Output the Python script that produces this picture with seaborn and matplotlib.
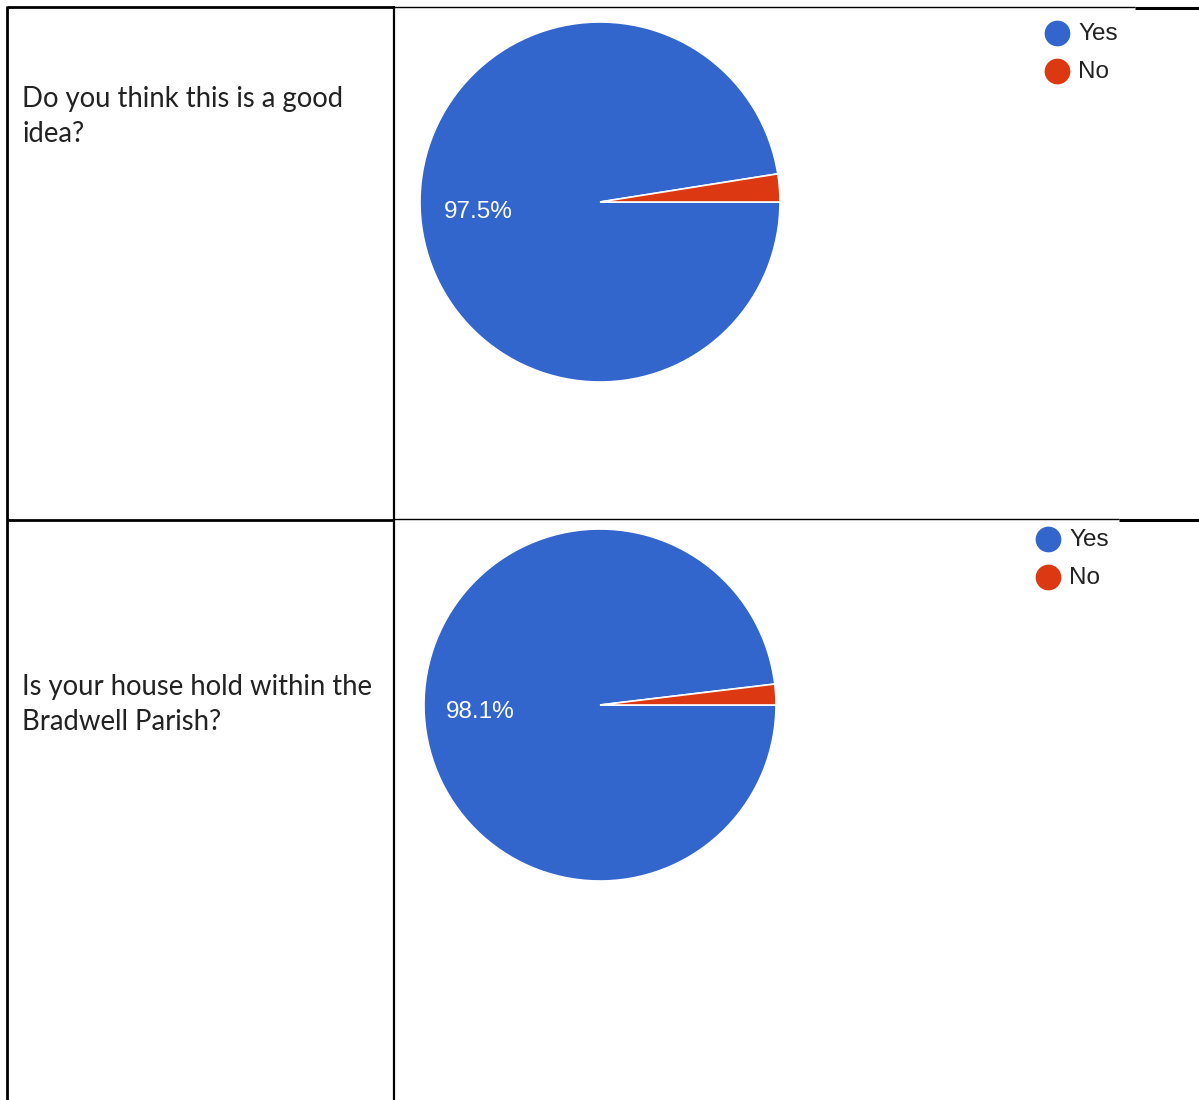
import matplotlib
matplotlib.use("Agg")
import matplotlib.pyplot as plt
import seaborn as sns
import pandas as pd

# survey data
questions = ["Do you think this is a good\nidea?",
             "Is your house hold within the\nBradwell Parish?"]
answers = ["Yes", "No"]
yes_share = [97.5, 98.1]
no_share = [2.5, 1.9]
colors = ["#3366CC", "#DC3912"]

df = pd.DataFrame({"question": questions, "Yes": yes_share, "No": no_share})

sns.set_theme(style="white")
plt.rcParams["font.family"] = ["Liberation Sans", "DejaVu Sans"]

W, H = 1199, 1100
fig = plt.figure(figsize=(W / 100, H / 100), dpi=100)

# canvas axes in pixel coordinates (y down) for the table grid and text
canvas = fig.add_axes([0, 0, 1, 1])
canvas.set_xlim(0, W)
canvas.set_ylim(H, 0)
canvas.axis("off")

# table grid
grid = [
    ((7, 394), (7, 7), 2.0),
    ((394, 1135), (7, 7), 1.0),
    ((1135, W), (8, 8), 2.2),
    ((7, 394), (520, 520), 2.0),
    ((394, 1119), (519, 519), 1.0),
    ((1119, W), (520, 520), 2.2),
    ((7, 7), (6, H), 2.0),
    ((394, 394), (6, H), 1.6),
]
for xs, ys, lw in grid:
    canvas.plot(xs, ys, color="black", lw=lw, solid_capstyle="butt")

# row layout: pie centre / radius, question baseline, legend origin
rows = [
    dict(cx=600, cy=202, r=180, text_y=107, leg_x=1057, leg_y=33),
    dict(cx=600, cy=705, r=176, text_y=695, leg_x=1048, leg_y=539),
]

for i, row in df.iterrows():
    lay = rows[i]
    for k, line in enumerate(row["question"].split("\n")):
        canvas.text(22, lay["text_y"] + 35.5 * k, line, family=["Lato", "DejaVu Sans"],
                    fontsize=19.8, color="#222222", va="baseline", ha="left")

    r = lay["r"]
    ax = fig.add_axes([(lay["cx"] - r) / W, (H - lay["cy"] - r) / H, 2 * r / W, 2 * r / H])
    vals = [row[a] for a in answers]
    start = 360 * row["No"] / 100
    wedges, _, autotexts = ax.pie(
        vals, colors=colors, startangle=start, counterclock=True,
        autopct=lambda p: f"{p:.1f}%" if p > 5 else "", pctdistance=0.68,
        wedgeprops=dict(edgecolor="white", linewidth=1.2),
        textprops=dict(color="white", fontsize=17.5))
    ax.set_xlim(-1, 1)
    ax.set_ylim(-1, 1)
    ax.set_aspect("equal")
    ax.axis("off")

    for j, (lab, col) in enumerate(zip(answers, colors)):
        y = lay["leg_y"] + 38 * j
        canvas.plot(lay["leg_x"], y, marker="o", ms=17.5, color=col, mec=col)
        canvas.text(lay["leg_x"] + 21, y + 1.5, lab, fontsize=17.5, color="#222222",
                    va="center", ha="left")

plt.savefig("out.png", dpi=100)
